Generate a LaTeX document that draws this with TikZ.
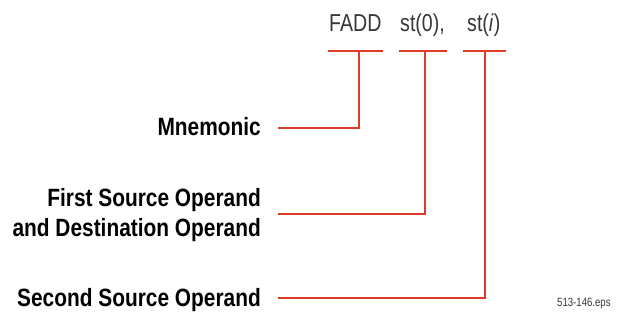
\documentclass[tikz,border=0pt]{standalone}
\usepackage{fontspec}
\setmainfont{Liberation Sans}
\newfontfamily\lblfont[FakeStretch=0.835]{Liberation Sans}
\newfontfamily\topfont[FakeStretch=0.8]{Liberation Sans}
\definecolor{callred}{RGB}{222,60,38}
\definecolor{toptext}{RGB}{55,55,55}
\begin{document}
\begin{tikzpicture}[x=1pt,y=-1pt,
  lbl/.style={font=\lblfont\bfseries\fontsize{25}{30}\selectfont, inner sep=0pt, align=right, anchor=base east},
  mnem/.style={font=\topfont\fontsize{24.5}{30}\selectfont, text=toptext, inner sep=0pt, anchor=base west},
  eps/.style={font=\topfont\fontsize{12}{14}\selectfont, text=toptext, inner sep=0pt, anchor=base west},
  callout/.style={draw=callred, line width=2.6pt},
]
\useasboundingbox (0,0) rectangle (623,322);
% instruction text
\node[mnem] (fadd) at (329,31) {FADD};
\node[mnem] (st0) at (400,31) {st(0),};
\node[mnem] (sti) at (467,31) {st(\textit{i})};
% bars
\coordinate (b1l) at (328,51); \coordinate (b1r) at (383,51); \coordinate (t1) at (359,51);
\coordinate (b2l) at (399,51); \coordinate (b2r) at (447,51); \coordinate (t2) at (425,51);
\coordinate (b3l) at (463,51); \coordinate (b3r) at (506,51); \coordinate (t3) at (485,51);
\draw[callout] (b1l) -- (b1r);
\draw[callout] (b2l) -- (b2r);
\draw[callout] (b3l) -- (b3r);
% labels
\node[lbl] (mn) at (261,135) {Mnemonic};
\node[lbl] (fs) at (261,236) {First Source Operand\\and Destination Operand};
\node[lbl] (ss) at (261,306) {Second Source Operand};
\coordinate (c1) at (278,128);
\coordinate (c2) at (278,214);
\coordinate (c3) at (278,298);
\draw[callout] (c1) -| (t1);
\draw[callout] (c2) -| (t2);
\draw[callout] (c3) -| (t3);
\node[eps] (file) at (557,306) {513-146.eps};
\end{tikzpicture}
\end{document}
